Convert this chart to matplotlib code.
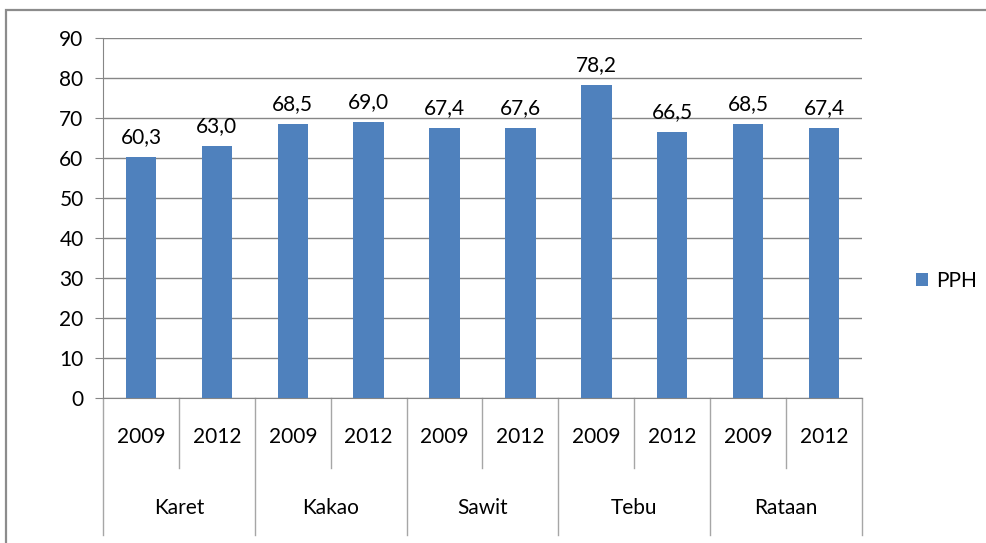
import matplotlib.pyplot as plt
from matplotlib.patches import Rectangle
import matplotlib.transforms as mtransforms

plt.rcParams['font.family'] = ['Lato', 'DejaVu Sans']

groups = ['Karet', 'Kakao', 'Sawit', 'Tebu', 'Rataan']
years = ['2009', '2012']
pph = [60.3, 63.0, 68.5, 69.0, 67.4, 67.6, 78.2, 66.5, 68.5, 67.4]
yticks = [0, 10, 20, 30, 40, 50, 60, 70, 80, 90]

W, H = 987, 543
fs = 15
fig = plt.figure(figsize=(W / 100, H / 100), dpi=100)
fig.patches.append(Rectangle((6 / W, -0.2), 1.2, 1.2 - 10 / H, transform=fig.transFigure,
                             fill=False, edgecolor='#8c8c8c', linewidth=1.6))

x0, x1, ytop, ybot = 103, 862, 38, 398
ax = fig.add_axes([x0 / W, 1 - ybot / H, (x1 - x0) / W, (ybot - ytop) / H])

pos = list(range(len(pph)))
bars = ax.bar(pos, pph, width=0.4, color='#4f81bd', zorder=3, label='PPH')
for x, v in zip(pos, pph):
    ax.annotate(f'{v:.1f}'.replace('.', ','), (x, v), xytext=(0, 14),
                textcoords='offset pixels', ha='center', va='baseline', fontsize=fs)

ax.set_xlim(-0.5, len(pph) - 0.5)
ax.set_ylim(0, 90)
ax.set_yticks(yticks)
ax.tick_params(axis='y', length=6, color='#868686', labelsize=fs, pad=8)
ax.set_xticks([])
ax.grid(axis='y', color='#868686', linewidth=1)
for s in ['top', 'right']:
    ax.spines[s].set_visible(False)
ax.spines['left'].set_color('#868686')
ax.spines['bottom'].set_color('#868686')

trans = mtransforms.blended_transform_factory(ax.transData, ax.transAxes)
h = ybot - ytop
y_year = -(468 - ybot) / h
y_grp = -(535 - ybot) / h
for i, x in enumerate(pos):
    ax.text(x, -(437 - ybot) / h, years[i % 2], transform=trans, ha='center', va='center', fontsize=fs)
for g, name in enumerate(groups):
    ax.text(2 * g + 0.5, -(508 - ybot) / h, name, transform=trans, ha='center', va='center', fontsize=fs)
    ax.plot([2 * g + 0.5] * 2, [0, y_year], transform=trans, color='#a6a6a6', lw=1, clip_on=False)
for g in range(len(groups) + 1):
    ax.plot([2 * g - 0.5] * 2, [0, y_grp], transform=trans, color='#a6a6a6', lw=1, clip_on=False)

fig.legend(handles=[bars], labels=['PPH'], loc='center left', bbox_to_anchor=(897 / W, 1 - 281 / H),
           frameon=False, fontsize=fs, handlelength=0.6, handleheight=0.6, handletextpad=0.4)

fig.savefig('out.png', dpi=100)
